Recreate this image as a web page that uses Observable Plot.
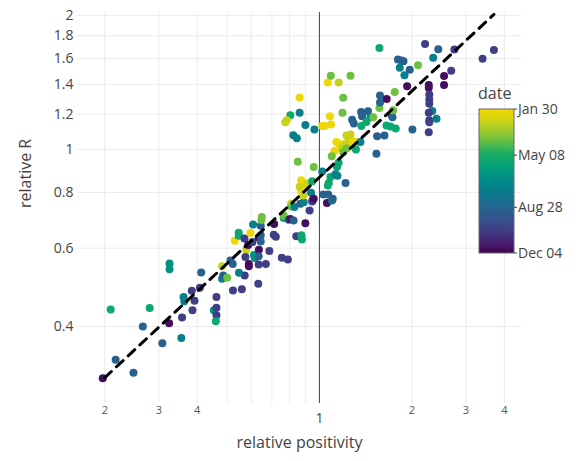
<!DOCTYPE html>
<html>
<head>
<meta charset="utf-8">
<script src="https://cdn.jsdelivr.net/npm/d3@7"></script>
<script src="https://cdn.jsdelivr.net/npm/@observablehq/plot@0.6"></script>
<style>
  html, body { margin: 0; padding: 0; background: #fff; }
  #chart { width: 580px; height: 461px; }
</style>
</head>
<body>
<div id="chart"></div>
<script>
// ---- data ----
const positivity = [
0.197,0.217,0.248,0.266,0.308,0.324,0.357,0.355,0.209,0.280,
0.325,0.325,0.361,0.363,0.386,0.384,0.392,0.412,0.408,0.453,
0.462,0.462,0.462,0.460,0.482,0.482,0.486,0.501,0.513,0.522,
0.523,0.530,0.546,0.546,0.578,0.559,0.571,0.547,0.570,0.574,
0.586,0.589,0.589,0.596,0.605,0.608,0.612,0.616,0.635,0.634,
0.634,0.634,0.644,0.649,0.647,0.644,0.644,0.669,0.687,0.712,
0.710,0.721,0.632,0.754,0.789,0.765,0.765,0.794,0.804,0.824,
0.841,0.874,0.877,0.900,0.808,0.810,0.829,0.867,0.889,0.947,
0.929,0.872,0.889,0.878,0.872,0.912,0.862,0.885,0.947,0.939,
0.850,0.958,0.804,0.783,0.774,0.862,0.862,0.900,0.963,0.822,
0.844,1.021,1.039,1.082,1.090,1.065,1.155,1.089,1.262,1.195,
1.189,1.136,1.155,1.225,1.246,1.278,1.216,1.262,1.177,1.333,
1.119,1.225,1.195,1.315,1.097,1.155,1.141,1.021,1.086,1.073,
1.127,1.144,1.216,0.949,1.029,1.068,1.058,1.100,1.105,0.958,
1.065,1.367,1.439,1.377,1.466,1.278,1.294,1.370,1.422,1.496,
1.360,1.541,1.628,1.533,1.653,1.703,1.772,1.713,1.729,1.568,
1.738,1.575,1.575,1.656,1.759,1.930,2.008,1.568,1.801,1.850,
1.878,1.826,2.095,1.968,1.892,2.208,2.438,2.751,2.347,3.398,
3.700,2.686,2.546,2.546,2.270,2.270,2.279,2.279,2.279,2.331,
2.270,2.279,2.279,2.406,2.270
];
const relativeR = [
0.306,0.337,0.315,0.400,0.367,0.407,0.419,0.377,0.437,0.440,
0.554,0.538,0.466,0.456,0.435,0.481,0.457,0.529,0.489,0.435,
0.466,0.441,0.424,0.411,0.546,0.512,0.521,0.515,0.563,0.553,
0.482,0.623,0.650,0.640,0.595,0.485,0.521,0.528,0.631,0.573,
0.610,0.553,0.546,0.649,0.619,0.678,0.579,0.570,0.595,0.634,
0.575,0.551,0.674,0.705,0.694,0.641,0.621,0.553,0.591,0.680,
0.643,0.636,0.499,0.571,0.566,0.701,0.710,0.695,0.698,0.692,
0.638,0.641,0.627,0.682,0.755,0.744,0.742,0.755,0.761,0.764,
0.729,0.852,0.832,0.816,0.805,0.838,0.824,0.788,0.848,0.799,
0.938,0.913,1.193,1.162,1.150,1.307,1.208,1.134,1.108,1.076,
1.059,1.129,1.128,1.187,1.138,1.414,1.413,1.463,1.463,1.306,
1.208,1.039,1.030,1.075,1.039,1.044,1.030,1.080,1.007,1.039,
0.991,1.004,0.986,1.000,0.965,0.933,0.913,0.892,0.867,0.840,
0.879,0.872,0.840,0.768,0.792,0.792,0.758,0.768,0.775,0.775,
0.830,1.213,1.218,1.187,1.181,1.166,1.143,1.128,1.152,1.181,
1.039,1.070,1.075,0.977,1.132,1.125,1.114,1.198,1.181,1.239,
1.224,1.322,1.274,1.298,1.345,1.387,1.108,1.689,1.592,1.583,
1.577,1.525,1.546,1.509,1.468,1.724,1.678,1.676,1.607,1.599,
1.672,1.501,1.461,1.395,1.396,1.376,1.329,1.294,1.267,1.220,
1.208,1.162,1.150,1.172,1.093
];
// colour group of each point (approximate date read from the colour)
const dateGroup = [
"P","B","B","B","B","P","I","T","G","G",
"TG","TG","T","T","I","I","I","B","I","TG",
"I","I","I","G","Y","T","B","L","B","B",
"I","YY","G","G","Y","I","I","T","I","I",
"P","P","P","YY","I","T","TG","TG","P","P",
"B","I","B","L","L","B","B","I","I","P",
"I","I","I","I","I","G","L","B","P","B",
"I","G","G","P","Y","L","T","B","T","I",
"I","YY","YY","YY","YY","Y","Y","Y","G","T",
"L","L","G","Y","Y","YY","T","T","T","T",
"T","YY","YY","YY","YY","YY","Y","L","L","L",
"L","YY","YY","Y","Y","YY","Y","Y","Y","YY",
"YY","L","L","G","L","G","G","T","G","G",
"T","T","B","I","B","B","P","T","B","P",
"G","B","B","B","T","B","B","G","G","L",
"T","B","B","B","G","G","G","B","B","L",
"L","B","B","P","L","P","B","G","B","B",
"B","T","L","B","T","I","B","I","T","I",
"I","I","P","P","P","P","I","I","I","T",
"I","I","I","T","I"
];
const groupDates = {
  P: "2020-11-25", I: "2020-10-15", B: "2020-09-01", T: "2020-07-20",
  TG: "2020-06-20", G: "2020-05-20", L: "2020-04-05", Y: "2020-02-25", YY: "2020-02-03"
};
// dashed fit line endpoints
const fitPositivity = [0.2, 3.7];
const fitR = [0.307, 2.01];
// tick values
const xMinorTicks = [0.2, 0.3, 0.4, 0.5, 0.6, 0.7, 0.8, 0.9, 2, 3, 4];
const xMajorTicks = [1];
const yTicks = [0.4, 0.6, 0.8, 1, 1.2, 1.4, 1.6, 1.8, 2];
const colorDomain = ["2020-01-30", "2020-12-04"]; // Jan 30 = yellow (top), Dec 04 = purple (bottom)
const colorTicks = ["2020-01-30", "2020-05-08", "2020-08-28", "2020-12-04"];
const colorTickLabels = ["Jan 30", "May 08", "Aug 28", "Dec 04"];
// viridis-like palette as rendered in the reference (purple -> yellow)
const palette = ["#440154","#472a7a","#3b4a8b","#2a608e","#0e768e","#008b87",
                 "#00a07a","#1fb062","#7ac33c","#c2d11c","#f5d800"];

// ---- build ----
const points = positivity.map((x, i) => ({
  x, y: relativeR[i], date: new Date(groupDates[dateGroup[i]])
}));
const fit = fitPositivity.map((x, i) => ({x, y: fitR[i]}));

const ramp = d3.piecewise(d3.interpolateRgb, palette);
const colorOpts = {
  type: "linear",
  domain: colorDomain.map(d => new Date(d)),
  interpolate: t => ramp(1 - t)
};
const font = "'Open Sans', 'Noto Sans', sans-serif";
const ink = "#444";

const plot = Plot.plot({
  width: 580,
  height: 461,
  marginLeft: 77,
  marginRight: 59,
  marginTop: 12,
  marginBottom: 58,
  style: {fontFamily: font, background: "white", overflow: "visible"},
  x: {type: "log", domain: [0.163, 4.55], axis: null},
  y: {type: "log", domain: [0.2686, 2.03], axis: null},
  color: colorOpts,
  marks: [
    Plot.gridX(xMinorTicks, {stroke: "#ebebeb", strokeOpacity: 1, strokeWidth: 1}),
    Plot.gridY(yTicks, {stroke: "#ebebeb", strokeOpacity: 1, strokeWidth: 1}),
    Plot.ruleX(xMajorTicks, {stroke: ink, strokeWidth: 1}),
    Plot.dot(points, {x: "x", y: "y", fill: "date", r: 4, stroke: null}),
    Plot.line(fit, {x: "x", y: "y", stroke: "black", strokeWidth: 3, strokeDasharray: "9,7"}),
    Plot.axisY(yTicks, {tickSize: 0, tickPadding: 4, fontSize: 14, fill: ink, tickFormat: d => String(d), label: null}),
    Plot.axisX(xMinorTicks, {tickSize: 0, tickPadding: 3, fontSize: 11, fill: "#555",
      tickFormat: d => d < 1 ? String(Math.round(d * 10)) : String(d), label: null}),
    Plot.axisX(xMajorTicks, {tickSize: 0, tickPadding: 10, fontSize: 14, fill: ink,
      tickFormat: d => String(d), label: null}),
    Plot.text(["relative R"], {frameAnchor: "left", dx: -52, rotate: -90, fontSize: 16, fill: ink}),
    Plot.text(["relative positivity"], {frameAnchor: "bottom", dy: 44, fontSize: 16, fill: ink})
  ]
});
document.getElementById("chart").appendChild(plot);

// ---- vertical colour bar (legend) ----
const cscale = Plot.scale({color: colorOpts});
const svg = d3.select(plot);
const barX = 479, barY = 109, barW = 35, barH = 144;
const defs = svg.append("defs");
const grad = defs.append("linearGradient").attr("id", "cbgrad")
  .attr("x1", 0).attr("y1", 0).attr("x2", 0).attr("y2", 1);
const d0 = colorOpts.domain[0].getTime(), d1 = colorOpts.domain[1].getTime();
d3.range(0, 1.0001, 0.05).forEach(t => {
  grad.append("stop").attr("offset", t).attr("stop-color", cscale.apply(new Date(d0 + t * (d1 - d0))));
});
const g = svg.append("g").attr("font-family", font).attr("text-anchor", "start");
g.append("text").attr("x", barX - 1).attr("y", barY - 16).attr("dy", "0.35em")
  .attr("font-size", 16).attr("fill", ink).text("date");
g.append("rect").attr("x", barX).attr("y", barY).attr("width", barW).attr("height", barH)
  .attr("fill", "url(#cbgrad)").attr("stroke", "#666").attr("stroke-width", 1);
const ty = d3.scaleLinear().domain([d0, d1]).range([barY, barY + barH]);
colorTicks.forEach((d, i) => {
  const y = ty(new Date(d).getTime());
  g.append("line").attr("x1", barX + barW).attr("x2", barX + barW + 3).attr("y1", y).attr("y2", y)
    .attr("stroke", ink).attr("stroke-width", 1);
  g.append("text").attr("x", barX + barW + 4).attr("y", y).attr("dy", "0.35em")
    .attr("font-size", 14).attr("fill", ink).text(colorTickLabels[i]);
});
</script>
</body>
</html>
